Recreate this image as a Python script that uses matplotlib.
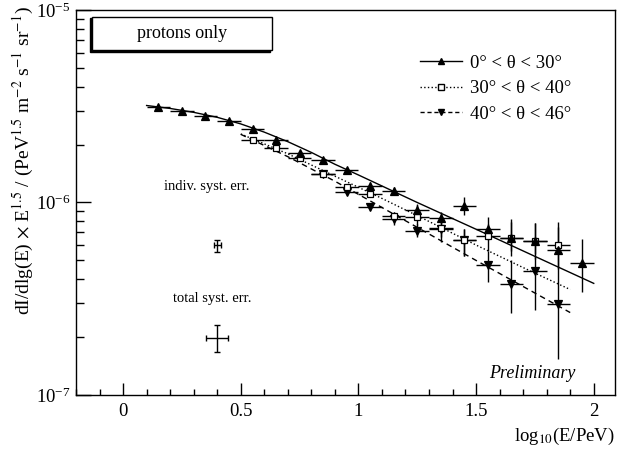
import matplotlib
matplotlib.use("Agg")
import matplotlib.pyplot as plt
from matplotlib.lines import Line2D
from matplotlib.patches import Rectangle
from matplotlib.ticker import MultipleLocator, LogLocator, NullFormatter
import numpy as np

plt.rcParams["font.family"] = ["Liberation Serif", "DejaVu Serif"]
plt.rcParams["mathtext.fontset"] = "stix"

# 0 < theta < 30 (triangles up)
x_a = [0.15, 0.25, 0.35, 0.45, 0.55, 0.65, 0.75, 0.85, 0.95, 1.05, 1.15, 1.25, 1.35, 1.45, 1.55, 1.65, 1.75, 1.85, 1.95]
y_a = [3.13e-6, 3.0e-6, 2.83e-6, 2.64e-6, 2.42e-6, 2.12e-6, 1.81e-6, 1.67e-6, 1.47e-6, 1.22e-6, 1.15e-6, 9.1e-7,
       8.3e-7, 9.6e-7, 7.3e-7, 6.55e-7, 6.3e-7, 5.68e-7, 4.86e-7]
lo_a = [3.08e-6, 2.95e-6, 2.78e-6, 2.59e-6, 2.37e-6, 2.08e-6, 1.77e-6, 1.63e-6, 1.43e-6, 1.16e-6, 1.09e-6, 8.6e-7,
        7.8e-7, 8.56e-7, 6.4e-7, 5.6e-7, 5.4e-7, 4.9e-7, 3.41e-7]
hi_a = [3.18e-6, 3.05e-6, 2.88e-6, 2.69e-6, 2.47e-6, 2.16e-6, 1.85e-6, 1.71e-6, 1.51e-6, 1.28e-6, 1.21e-6, 9.7e-7,
        8.9e-7, 1.066e-6, 8.36e-7, 8.16e-7, 7.87e-7, 7.9e-7, 6.43e-7]

# 30 < theta < 40 (open squares)
x_b = [0.55, 0.65, 0.75, 0.85, 0.95, 1.05, 1.15, 1.25, 1.35, 1.45, 1.55, 1.65, 1.75, 1.85]
y_b = [2.12e-6, 1.92e-6, 1.71e-6, 1.41e-6, 1.2e-6, 1.11e-6, 8.5e-7, 8.4e-7, 7.4e-7, 6.42e-7, 6.66e-7, 6.55e-7, 6.3e-7, 5.98e-7]
lo_b = [2.07e-6, 1.87e-6, 1.67e-6, 1.37e-6, 1.16e-6, 1.07e-6, 8.1e-7, 7.6e-7, 6.6e-7, 5.3e-7, 5.6e-7, 5.3e-7, 5.1e-7, 4.5e-7]
hi_b = [2.17e-6, 1.97e-6, 1.75e-6, 1.45e-6, 1.24e-6, 1.15e-6, 8.9e-7, 9.85e-7, 8.3e-7, 7.3e-7, 7.7e-7, 7.9e-7, 7.8e-7, 7.5e-7]

# 40 < theta < 46 (triangles down)
x_c = [0.85, 0.95, 1.05, 1.15, 1.25, 1.35, 1.45, 1.55, 1.65, 1.75, 1.85]
y_c = [1.41e-6, 1.13e-6, 9.5e-7, 8.2e-7, 7.1e-7, 7.3e-7, 6.4e-7, 4.71e-7, 3.78e-7, 4.4e-7, 2.98e-7]
lo_c = [1.37e-6, 1.09e-6, 9.1e-7, 7.6e-7, 6.6e-7, 6.22e-7, 5.3e-7, 3.84e-7, 2.68e-7, 2.75e-7, 1.53e-7]
hi_c = [1.45e-6, 1.17e-6, 9.9e-7, 8.9e-7, 7.7e-7, 8.73e-7, 7.3e-7, 5.6e-7, 5.0e-7, 5.3e-7, 4.9e-7]

# fitted curves
fit_a_x = [0.1, 0.2, 0.3, 0.4, 0.5, 0.6, 0.7, 0.8, 0.9, 1.0, 1.25, 1.5, 1.75, 2.0]
fit_a_y = [3.19e-6, 3.08e-6, 2.94e-6, 2.77e-6, 2.56e-6, 2.32e-6, 2.07e-6, 1.82e-6, 1.58e-6, 1.39e-6, 1.0e-6, 7.26e-7, 5.25e-7, 3.8e-7]
fit_b_x = [0.5, 0.7, 0.9, 1.1, 1.3, 1.5, 1.7, 1.9]
fit_b_y = [2.27e-6, 1.79e-6, 1.37e-6, 1.05e-6, 7.97e-7, 6.01e-7, 4.59e-7, 3.53e-7]
fit_c_x = [0.5, 0.7, 0.9, 1.1, 1.3, 1.5, 1.7, 1.9]
fit_c_y = [2.26e-6, 1.73e-6, 1.29e-6, 9.42e-7, 6.86e-7, 5.0e-7, 3.66e-7, 2.68e-7]

# systematic error markers
syst_x = [0.4, 0.4]
syst_y = [6.0e-7, 1.98e-7]
syst_lo = [5.52e-7, 1.67e-7]
syst_hi = [6.35e-7, 2.3e-7]
syst_xerr = [0.014, 0.046]

labels = ["0° < θ < 30°", "30° < θ < 40°", "40° < θ < 46°"]

fig = plt.figure(figsize=(6.18, 4.54), dpi=100)
ax = fig.add_axes([0.123, 0.130, 0.872, 0.848])

ax.plot(fit_a_x, fit_a_y, "k-", lw=1)
ax.plot(fit_b_x, fit_b_y, "k:", lw=1)
ax.plot(fit_c_x, fit_c_y, "k--", lw=1, dashes=(4, 3))

for xs, ys, lo, hi, m, fc in [(x_c, y_c, lo_c, hi_c, "v", "k"), (x_b, y_b, lo_b, hi_b, "s", "w"), (x_a, y_a, lo_a, hi_a, "^", "k")]:
    ys = np.array(ys); yerr = [ys - np.array(lo), np.array(hi) - ys]
    ax.errorbar(xs, ys, xerr=0.05, yerr=yerr, fmt=m, ms=5.5 if m != "s" else 5, mfc=fc, mec="k", mew=0.9,
                ecolor="k", elinewidth=1, capsize=0)

sy = np.array(syst_y)
ax.errorbar(syst_x, sy, xerr=syst_xerr, yerr=[sy - np.array(syst_lo), np.array(syst_hi) - sy], fmt="none",
            ecolor="k", elinewidth=1, capsize=2, capthick=1)
ax.text(0.356, 1.21e-6, "indiv. syst. err.", fontsize=10.5, ha="center", va="center")
ax.text(0.38, 3.17e-7, "total syst. err.", fontsize=10.5, ha="center", va="center")
ax.text(1.74, 1.29e-7, "Preliminary", fontsize=13, style="italic", ha="center", va="center")

ax.set_yscale("log")
ax.set_xlim(-0.2, 2.09)
ax.set_ylim(1e-7, 1e-5)
ax.xaxis.set_minor_locator(MultipleLocator(0.1))
ax.set_xticks([0, 0.5, 1, 1.5, 2]); ax.set_xticklabels(["0", "0.5", "1", "1.5", "2"])
ax.yaxis.set_minor_locator(LogLocator(base=10, subs=np.arange(2, 10)))
ax.yaxis.set_minor_formatter(NullFormatter())
ax.tick_params(which="both", direction="in", top=False, right=False, labelsize=13.5, width=1)
ax.tick_params(axis="x", which="major", length=8.4, pad=6)
ax.tick_params(axis="x", which="minor", length=4.1)
ax.tick_params(axis="y", which="major", length=11, pad=4)
ax.tick_params(axis="y", which="minor", length=5.5)
for s in ax.spines.values(): s.set_linewidth(1)

# "protons only" box with shadow
ax.add_patch(Rectangle((0.0255, 0.891), 0.3345, 0.087, transform=ax.transAxes, fc="k", ec="k", lw=1, zorder=5))
ax.add_patch(Rectangle((0.0297, 0.896), 0.3343, 0.086, transform=ax.transAxes, fc="w", ec="k", lw=1, zorder=6))
ax.text(0.197, 0.939, "protons only", transform=ax.transAxes, fontsize=13, ha="center", va="center", zorder=7)

handles = [Line2D([], [], color="k", ls="-", lw=1, marker="^", ms=4.5, mfc="k"),
           Line2D([], [], color="k", ls=":", lw=1, marker="s", ms=4, mfc="w"),
           Line2D([], [], color="k", ls="--", lw=1, marker="v", ms=4.5, mfc="k", dashes=(3, 2))]
ax.legend(handles, labels, loc="upper left", bbox_to_anchor=(0.638, 0.884), frameon=False, fontsize=13.5,
          handlelength=2.25, handletextpad=0.45, labelspacing=0.45, borderpad=0, borderaxespad=0)

fig.text(23 / 618, 1 - 6 / 454, r"dI/dlg(E) $\times$ E$^{1.5}$ / (PeV$^{1.5}$ m$^{-2}$ s$^{-1}$ sr$^{-1}$)",
         rotation=90, ha="center", va="top", fontsize=14)
fig.text(615 / 618, 7 / 454, r"log$_{10}$(E/PeV)", ha="right", va="bottom", fontsize=13.5)

fig.savefig("out.png", dpi=100)
